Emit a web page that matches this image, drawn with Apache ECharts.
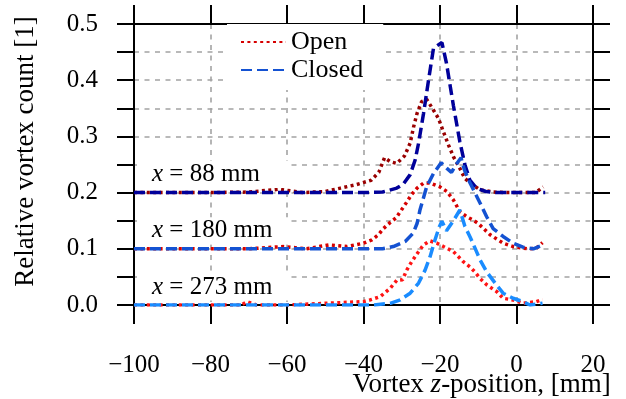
<!DOCTYPE html>
<html>
<head>
<meta charset="utf-8">
<script src="https://cdn.jsdelivr.net/npm/echarts@6/dist/echarts.min.js"></script>
<style>html,body{margin:0;padding:0;background:#fff}#c{width:626px;height:399px}</style>
</head>
<body>
<div id="c"></div>
<script>
// ---- data ----
const xTicks = [-100, -80, -60, -40, -20, 0, 20];
const yTicks = [0.0, 0.1, 0.2, 0.3, 0.4, 0.5];
const legendNames = ['Open', 'Closed'];
const stationLabels = ['88 mm', '180 mm', '273 mm'];
const stationBase = [0.2, 0.1, 0.0];

const zOpen88 = [-100,-90,-80,-70,-62,-56,-50,-46,-42,-38,-36,-34.5,-33,-31.3,-29.3,-27.8,-26.9,-26,-24.8,-23.5,-22,-20.4,-19.1,-17.8,-16.5,-14.8,-13.5,-11.3,-9.5,-6,-2,2,5,7];
const vOpen88 = [0.2,0.2,0.2,0.201,0.206,0.2,0.202,0.208,0.214,0.222,0.236,0.262,0.255,0.252,0.265,0.288,0.317,0.341,0.362,0.366,0.35,0.332,0.308,0.285,0.264,0.243,0.225,0.213,0.205,0.201,0.2,0.2,0.2,0.21];

const zClosed88 = [-100,-90,-80,-70,-60,-50,-40,-35,-31.3,-29.6,-27.8,-26.5,-25.6,-24.3,-23,-21.7,-19.5,-18.3,-16.5,-14.8,-13.5,-12.2,-10.5,-8,-5,0,5,7.5];
const vClosed88 = [0.2,0.2,0.2,0.2,0.2,0.2,0.2,0.201,0.208,0.215,0.232,0.258,0.288,0.341,0.40,0.457,0.467,0.43,0.355,0.29,0.25,0.222,0.208,0.202,0.2,0.2,0.2,0.2];

const zOpen180 = [-100,-90,-80,-70,-61,-55,-49,-44.3,-40,-37.8,-36.1,-34.8,-33,-31.5,-30,-28.5,-27.5,-26,-24.3,-22.6,-20,-18.2,-16.5,-14.8,-13,-11.3,-10,-6.9,-3.5,-0.9,3,5.2,6.8];
const vOpen180 = [0.1,0.1,0.1,0.1,0.104,0.1,0.107,0.104,0.11,0.116,0.125,0.136,0.147,0.155,0.17,0.185,0.196,0.208,0.217,0.217,0.21,0.202,0.187,0.166,0.157,0.151,0.145,0.125,0.11,0.104,0.1,0.101,0.111];

const zClosed180 = [-100,-90,-80,-70,-60,-50,-40,-35,-32.2,-29.1,-27,-26,-25.2,-23.5,-21.7,-19.7,-18.2,-17,-15.8,-14.5,-13.6,-12.2,-9.5,-7.8,-6.1,-3.5,-0.9,1.7,4.4,7];
const vClosed180 = [0.1,0.1,0.1,0.1,0.1,0.1,0.1,0.1,0.104,0.113,0.128,0.145,0.17,0.21,0.234,0.253,0.243,0.236,0.25,0.262,0.24,0.218,0.181,0.157,0.136,0.122,0.11,0.103,0.1,0.107];

const zOpen273 = [-100,-90,-80,-72,-70.4,-68,-60,-50,-40,-38.3,-35.6,-33,-31.3,-29.8,-28.7,-27.4,-25.6,-24.3,-22.6,-20.8,-19.1,-16.5,-13.9,-12.2,-10.9,-9.5,-7.8,-5.2,-3.5,-0.9,1.7,5.2,6.8];
const vOpen273 = [0,0,0,0,0.006,0,0,0.003,0.006,0.009,0.015,0.03,0.044,0.045,0.062,0.077,0.095,0.107,0.114,0.11,0.104,0.095,0.077,0.068,0.059,0.047,0.036,0.024,0.012,0.009,0.003,0.006,0.01];

const zClosed273 = [-100,-90,-80,-70,-60,-50,-40,-37.4,-33,-30.4,-27.8,-25.6,-23.9,-22.6,-21.3,-20.2,-19.5,-18.3,-16.5,-14.8,-13.5,-12.2,-10.9,-9.5,-7.8,-5.6,-3.5,-0.9,1.7,3.5,6.8];
const vClosed273 = [0,0,0,0,0,0,0,0,0.003,0.009,0.021,0.039,0.062,0.086,0.116,0.139,0.149,0.132,0.15,0.169,0.14,0.122,0.102,0.08,0.059,0.039,0.021,0.012,0.006,0,0.003];

// ---- chart ----
const FONT = 'Liberation Serif';
const zip = (a, b) => a.map((v, i) => [v, b[i]]);
const dotted = [3, 3.4];
const dashed = [11, 5];

function mkSeries(name, z, v, color, type, label) {
  const s = {
    name: name, type: 'line', symbol: 'none', smooth: false,
    data: zip(z, v),
    lineStyle: { color: color, width: 3.5, type: type, cap: 'butt' },
    itemStyle: { color: color },
    emphasis: { disabled: true },
    animation: false
  };
  if (label) {
    s.markPoint = {
      symbol: 'circle', symbolSize: 0, silent: true, animation: false,
      data: [{ coord: [xTicks[0], label.base + 0.032], value: 0 }],
      label: {
        show: true, position: 'right', distance: 0, offset: [3, 0],
        backgroundColor: '#fff', padding: [1, 10, 1, 15], width: 126,
        formatter: '{i|x} = ' + label.text,
        color: '#000', fontFamily: FONT, fontSize: 25,
        rich: { i: { fontStyle: 'italic', fontFamily: FONT, fontSize: 25, color: '#000' } }
      }
    };
  }
  return s;
}

const axisLineStyle = { color: '#000', width: 2 };
const gridLine = { show: true, lineStyle: { color: '#a3a3a3', width: 1.6, type: [5, 5.5] } };
const fmtX = v => (v < 0 ? '\u2212' + Math.abs(v) : String(v));
const fmtY = v => (Math.abs(v * 10 - Math.round(v * 10)) < 1e-6 ? v.toFixed(1) : '');

const option = {
  backgroundColor: '#fff',
  animation: false,
  grid: { left: 134, right: 33, top: 24, bottom: 94, containLabel: false, outerBoundsMode: 'none' },
  legend: {
    data: legendNames, orient: 'vertical', left: 227, top: 24,
    itemWidth: 45, itemHeight: 14, itemGap: 2,
    padding: [5, 20, 7, 13], backgroundColor: '#fff',
    itemStyle: { color: 'rgba(0,0,0,0)', borderWidth: 0, opacity: 0 },
    textStyle: { fontFamily: FONT, fontSize: 26, color: '#000' },
    selectedMode: false
  },
  xAxis: [
    {
      type: 'value', position: 'bottom', min: xTicks[0], max: xTicks[xTicks.length - 1], interval: 20,
      axisLine: { show: true, onZero: false, lineStyle: axisLineStyle },
      axisTick: { show: true, inside: false, length: 19, lineStyle: axisLineStyle },
      axisLabel: { margin: 48, fontFamily: FONT, fontSize: 25, color: '#000', formatter: fmtX, showMinLabel: true, showMaxLabel: true },
      splitLine: gridLine,
      name: 'Vortex {i|z}-position, [mm]', nameLocation: 'middle', nameGap: 66, nameMoveOverlap: false,
      nameTextStyle: {
        fontFamily: FONT, fontSize: 27, color: '#000',
        padding: [0, 0, 0, 236],
        rich: { i: { fontStyle: 'italic', fontFamily: FONT, fontSize: 27, color: '#000' } }
      }
    },
    {
      type: 'value', position: 'top', min: xTicks[0], max: xTicks[xTicks.length - 1], interval: 20,
      axisLine: { show: true, onZero: false, lineStyle: axisLineStyle },
      axisTick: { show: true, inside: false, length: 19, lineStyle: axisLineStyle },
      axisLabel: { show: false }, splitLine: { show: false }
    }
  ],
  yAxis: [
    {
      type: 'value', position: 'left', min: yTicks[0], max: yTicks[yTicks.length - 1], interval: 0.05,
      axisLine: { show: true, onZero: false, lineStyle: axisLineStyle },
      axisTick: { show: true, inside: false, length: 17, lineStyle: axisLineStyle },
      axisLabel: { margin: 36, fontFamily: FONT, fontSize: 25, color: '#000', formatter: fmtY, showMinLabel: true, showMaxLabel: true },
      splitLine: gridLine,
      name: 'Relative vortex count [1]', nameLocation: 'middle', nameGap: 95, nameMoveOverlap: false,
      nameTextStyle: { fontFamily: FONT, fontSize: 27, color: '#000', padding: [0, 0, 0, 26] }
    },
    {
      type: 'value', position: 'right', min: yTicks[0], max: yTicks[yTicks.length - 1], interval: 0.05,
      axisLine: { show: true, onZero: false, lineStyle: axisLineStyle },
      axisTick: { show: true, inside: false, length: 17, lineStyle: axisLineStyle },
      axisLabel: { show: false }, splitLine: { show: false }
    }
  ],
  series: [
    mkSeries('Open (x = 88 mm)', zOpen88, vOpen88, '#990000', dotted),
    mkSeries('Open', zOpen180, vOpen180, '#d60000', dotted),
    mkSeries('Open (x = 273 mm)', zOpen273, vOpen273, '#ff1414', dotted),
    mkSeries('Closed (x = 88 mm)', zClosed88, vClosed88, '#00009a', dashed, { base: stationBase[0], text: stationLabels[0] }),
    mkSeries('Closed', zClosed180, vClosed180, '#1452d2', dashed, { base: stationBase[1], text: stationLabels[1] }),
    mkSeries('Closed (x = 273 mm)', zClosed273, vClosed273, '#1a8cff', dashed, { base: stationBase[2], text: stationLabels[2] })
  ]
};

const chart = echarts.init(document.getElementById('c'), null, { renderer: 'canvas' });
chart.setOption(option);
</script>
</body>
</html>
